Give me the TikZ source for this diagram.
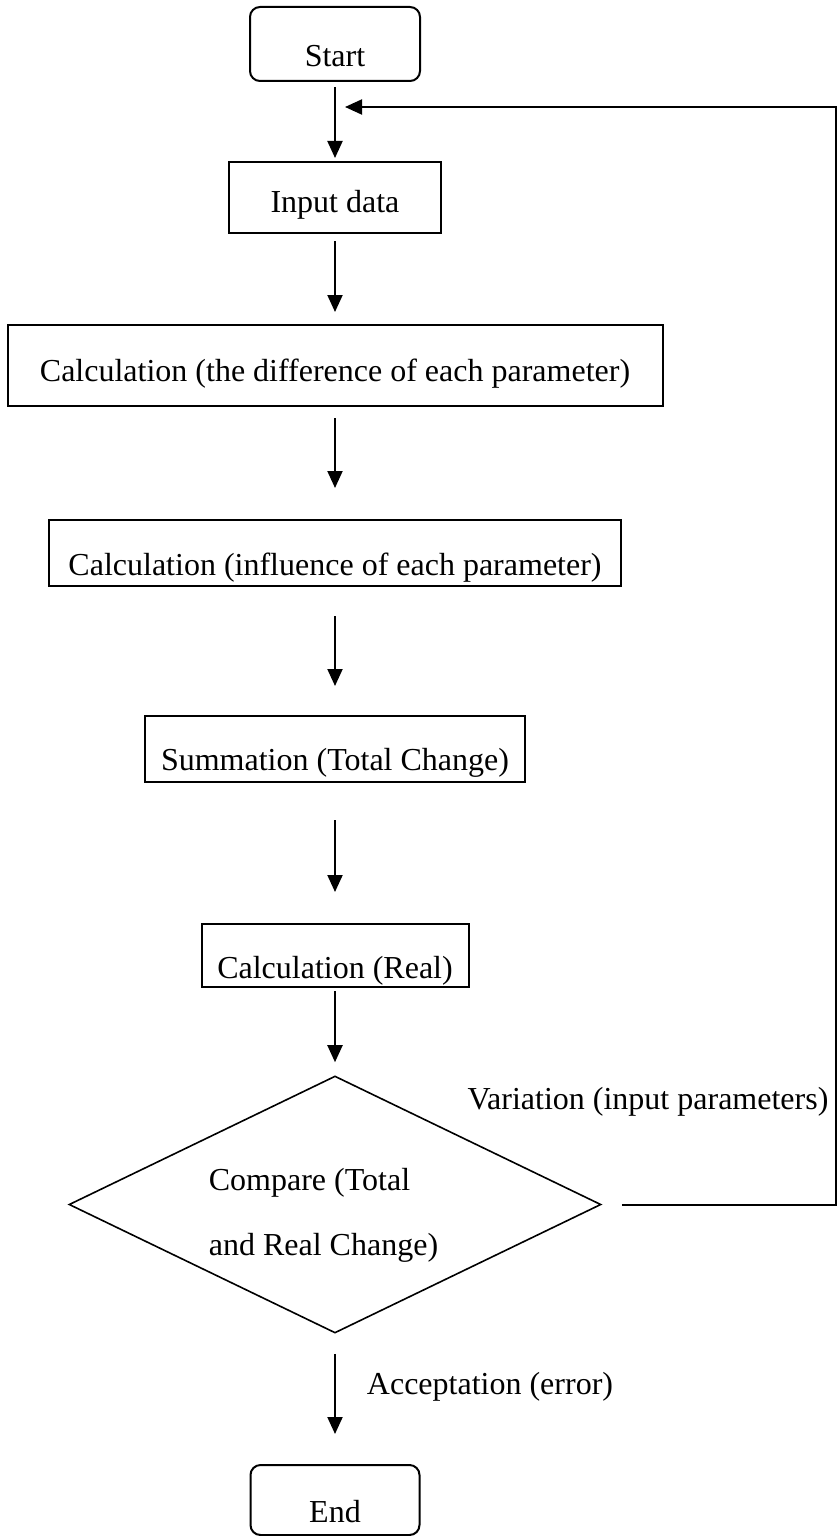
\documentclass[tikz,border=0pt]{standalone}
\usepackage{fontspec}
\setmainfont{Liberation Serif}
\usetikzlibrary{shapes.geometric,arrows.meta}
\begin{document}
\begin{tikzpicture}[x=1pt,y=-1pt,
  every node/.style={font=\fontsize{32}{38}\selectfont},
  box/.style={draw, line width=2pt, inner sep=0pt, text depth=7pt, text height=#1},
  box/.default=38pt,
  term/.style={box=#1, rounded corners=10pt},
  flow/.style={line width=2pt, -{Triangle[length=17pt,width=15pt]}},
  dec/.style={draw, shape=diamond, line width=1.6pt, inner sep=0pt}]
\useasboundingbox (0,0) rectangle (839,1536);
\fill[white] (0,0) rectangle (839,1536);
\node[term=52pt, minimum width=170pt, minimum height=74pt] (start) at (335,44) {Start};
\node[box=36pt, minimum width=212pt, minimum height=71pt] (input) at (335,197.5) {Input data};
\node[box=38pt, minimum width=655pt, minimum height=81pt] (calc1) at (335,365.5) {Calculation (the difference of each parameter)};
\node[box=52pt, minimum width=572pt, minimum height=66pt] (calc2) at (335,553) {Calculation (influence of each parameter)};
\node[box=50pt, minimum width=380pt, minimum height=66pt] (sum) at (335,749) {Summation (Total Change)};
\node[box=52pt, minimum width=267pt, minimum height=63pt] (real) at (335,955.5) {Calculation (Real)};
\node[dec, minimum width=532pt, minimum height=257pt] (dia) at (335,1204.5) {};
\node[align=left, font=\fontsize{32}{65}\selectfont] (cmptext) at (323.5,1215) {Compare (Total\\and Real Change)};
\node[term=52pt, minimum width=169pt, minimum height=70pt] (end) at (335,1500) {End};
\node (vartext) at (648,1102) {Variation (input parameters)};
\node (acctext) at (490,1387) {Acceptation (error)};
\coordinate (fbc) at (836,107);
\coordinate (fbtip) at (345,107);
\draw[flow, shorten <=5pt, shorten >=3pt] (start) -- (input);
\draw[flow, shorten <=7pt, shorten >=12pt] (input) -- (calc1);
\draw[flow, shorten <=11pt, shorten >=31pt] (calc1) -- (calc2);
\draw[flow, shorten <=29pt, shorten >=29pt] (calc2) -- (sum);
\draw[flow, shorten <=37pt, shorten >=31pt] (sum) -- (real);
\draw[flow, shorten <=3pt, shorten >=13pt] (real) -- (dia);
\draw[flow, shorten <=20pt, shorten >=30pt] (dia) -- (end);
\draw[flow, shorten <=20pt] (dia.east) -- (dia.east -| fbc) -- (fbc) -- (fbtip);
\end{tikzpicture}
\end{document}
